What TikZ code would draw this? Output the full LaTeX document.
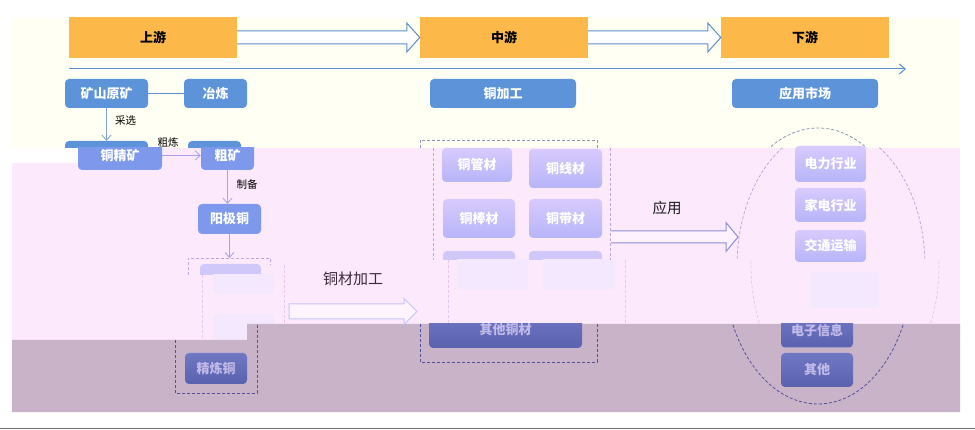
\documentclass[tikz,border=0pt]{standalone}
\usepackage{fontspec}
\setmainfont{Noto Sans CJK SC}
\usetikzlibrary{arrows.meta,calc}
\definecolor{cream}{HTML}{FFFFF3}
\definecolor{pinkbg}{HTML}{FCEAFC}
\definecolor{mauvebg}{HTML}{C9B3C8}
\definecolor{orng}{HTML}{FDB84A}
\definecolor{bluebox}{HTML}{5C93D9}
\definecolor{blueline}{HTML}{5B8FCF}
\definecolor{peri}{HTML}{7E99EC}
\definecolor{lavtop}{HTML}{D8CAFD}
\definecolor{lavbot}{HTML}{B6B5F9}
\definecolor{lavmid}{HTML}{D0C8F8}
\definecolor{indtop}{HTML}{7078C4}
\definecolor{indbot}{HTML}{5A62B0}
\definecolor{indtext}{HTML}{C2BAE8}
\definecolor{faint}{HTML}{F3E8FD}
\definecolor{arrp}{HTML}{A6A2E6}
\definecolor{arrcb}{HTML}{7FA0D8}
\definecolor{dashcr}{HTML}{8A94B4}
\definecolor{dashpk}{HTML}{BBA8D8}
\definecolor{dashgh}{HTML}{E6C6EC}
\definecolor{dashmv}{HTML}{52529C}
\definecolor{yyarr}{HTML}{8E8CDC}
\definecolor{tcarr}{HTML}{C4C4F8}
\definecolor{graybar}{HTML}{707070}
\tikzset{
  base/.style={rounded corners=4pt, inner sep=0pt, font=\bfseries\fontsize{13}{13}\selectfont},
  stage/.style={fill=orng, font=\bfseries\fontsize{13}{13}\selectfont, text=black, inner sep=0pt, minimum width=168pt, minimum height=41pt},
  bluebx/.style={base, fill=bluebox, text=white, minimum height=29pt},
  peribx/.style={base, fill=peri, text=white},
  lavbx/.style={base, top color=lavtop, bottom color=lavbot, text=white},
  indbx/.style={base, top color=indtop, bottom color=indbot, text=indtext},
  ghostfill/.style={rounded corners=4pt, fill=faint},
  lbl/.style={font=\fontsize{10.5}{10.5}\selectfont, text=black, inner sep=0pt},
  arrc/.style={draw=#1, line width=0.8pt, -{Straight Barb[length=5pt,width=9pt]}},
  dsh/.style={draw=#1, dash pattern=on 3pt off 2pt, line width=0.8pt},
}
\begin{document}
\begin{tikzpicture}[x=1pt,y=-1pt]
\useasboundingbox (0,0) rectangle (975,430);
% backgrounds
\fill[white] (0,0) rectangle (975,430);
\fill[cream] (12,18) rectangle (960,148);
\fill[pinkbg] (12,163) -- (78,163) -- (78,148) -- (960,148) -- (960,340) -- (12,340) -- cycle;
% ghost band elements
\begin{scope}
  \clip (0,0) rectangle (975,275);
  \fill[lavmid, rounded corners=4pt] (200,264) rectangle (261,294);
\end{scope}
\begin{scope}
  \clip (0,275) rectangle (975,430);
  \fill[ghostfill] (213,264) rectangle (274,294);
\end{scope}
\fill[ghostfill] (213,314) rectangle (274,346);
\begin{scope}
  \clip (0,0) rectangle (975,260);
  \fill[lavmid, rounded corners=4pt] (443,251) rectangle (515,290);
  \fill[lavmid, rounded corners=4pt] (529,251) rectangle (602,290);
\end{scope}
\begin{scope}
  \clip (0,260) rectangle (975,430);
  \fill[ghostfill] (457,251) rectangle (528,290);
  \fill[ghostfill] (543,251) rectangle (615,290);
\end{scope}
\fill[ghostfill] (810,272) rectangle (879,308);
% mauve band
\fill[mauvebg] (12,340) -- (247,340) -- (247,324) -- (960,324) -- (960,412) -- (12,412) -- cycle;
\draw[graybar, line width=1.5pt] (0,428.5) -- (975,428.5);

% stage nodes
\node[stage] (sy) at (153,37.5) {上游};
\node[stage] (zy) at (504,37.5) {中游};
\node[stage] (xy) at (805,37.5) {下游};
% block arrows between stages
\filldraw[draw=blueline, fill=white, line width=1pt]
  ($(sy.east)+(0,-6.5)$) -- ($(zy.west)+(-13,-6.5)$) -- ($(zy.west)+(-13,-14.5)$) -- (zy.west)
  -- ($(zy.west)+(-13,14.5)$) -- ($(zy.west)+(-13,6.5)$) -- ($(sy.east)+(0,6.5)$);
\filldraw[draw=blueline, fill=white, line width=1pt]
  ($(zy.east)+(0,-6.5)$) -- ($(xy.west)+(-13,-6.5)$) -- ($(xy.west)+(-13,-14.5)$) -- (xy.west)
  -- ($(xy.west)+(-13,14.5)$) -- ($(xy.west)+(-13,6.5)$) -- ($(zy.east)+(0,6.5)$);
% long timeline
\coordinate (tlA) at (69,69);
\coordinate (tlB) at (906,69);
\draw[blueline, line width=1pt, -{Straight Barb[length=6pt,width=10pt]}] (tlA) -- (tlB);

% row 2
\node[bluebx, minimum width=83pt] (kys) at (106.5,93.5) {矿山原矿};
\node[bluebx, minimum width=63pt] (yl) at (215.5,93.5) {冶炼};
\node[bluebx, minimum width=146pt] (tjg) at (503,93.5) {铜加工};
\node[bluebx, minimum width=146pt] (yysc) at (805,93.5) {应用市场};
\draw[blueline, line width=0.9pt] (kys.east) -- (yl.west);

% slivers at original place
\begin{scope}
  \clip (0,0) rectangle (975,148);
  \fill[bluebox, rounded corners=4pt] (65,141) rectangle (148,170);
  \fill[bluebox, rounded corners=4pt] (188,141) rectangle (241,170);
\end{scope}
\begin{scope}
  \clip (0,148) rectangle (975,430);
  \node[peribx, minimum width=84pt, minimum height=29pt] (tjk) at (120,155.5) {铜精矿};
  \node[peribx, minimum width=53pt, minimum height=29pt] (ck) at (227.5,155.5) {粗矿};
\end{scope}
\node[peribx, minimum width=63pt, minimum height=30pt] (yjt) at (229.5,219) {阳极铜};

% middle frame boxes
\node[lavbx, minimum width=70pt, minimum height=34pt] (tgc) at (477,165) {铜管材};
\node[lavbx, minimum width=73pt, minimum height=39pt] (txc) at (565.5,168.5) {铜线材};
\node[lavbx, minimum width=72pt, minimum height=39pt] (tbc) at (479,218.5) {铜棒材};
\node[lavbx, minimum width=73pt, minimum height=39pt] (tdc) at (565.5,218.5) {铜带材};
% right boxes
\node[lavbx, minimum width=71pt, minimum height=36pt] (dl) at (830.5,164) {电力行业};
\node[lavbx, minimum width=71pt, minimum height=34pt] (jd) at (830.5,205) {家电行业};
\node[lavbx, minimum width=71pt, minimum height=32pt] (jt) at (830.5,246) {交通运输};

% mauve band boxes
\node[indbx, minimum width=62pt, minimum height=31pt] (jlt) at (216,368.5) {精炼铜};
\begin{scope}
  \clip (247,324) rectangle (960,412);
  \node[indbx, minimum width=153pt, minimum height=36pt] (qtc) at (505.5,330) {其他铜材};
  \node[indbx, minimum width=72pt, minimum height=33pt] (dzxx) at (817,331) {电子信息};
\end{scope}
\node[indbx, minimum width=72pt, minimum height=34pt] (qt) at (817,370) {其他};

% connectors
\draw[arrc=arrcb] (kys.south) -- (kys.south |- tjk.north);
\draw[arrc=arrp] (tjk.east) -- (ck.west);
\draw[arrc=arrp] (ck.south) -- (ck.south |- yjt.north);
\coordinate (lftop) at (229.5,258);
\draw[arrc=arrp] (yjt.south) -- (lftop);

% labels
\node[lbl] (lcx) at (125.5,120.5) {采选};
\node[lbl] (lcl) at (168,143) {粗炼};
\node[lbl] (lzb) at (247,184) {制备};
\node[font=\fontsize{14.5}{14.5}\selectfont, text=black!90, inner sep=0pt] (lyy) at (667,208) {应用};
\node[font=\fontsize{15}{15}\selectfont, text={rgb,255:red,60;green,42;blue,60}, inner sep=0pt] (ltc) at (353,279) {铜材加工};

% block arrow 应用
\coordinate (yyA) at (611,237);
\coordinate (yyB) at (738,237);
\filldraw[draw=yyarr, fill=pinkbg!60!white, line width=1pt]
  ($(yyA)+(0,-6)$) -- ($(yyB)+(-12,-6)$) -- ($(yyB)+(-12,-14.5)$) -- (yyB)
  -- ($(yyB)+(-12,14.5)$) -- ($(yyB)+(-12,6)$) -- ($(yyA)+(0,6)$);
% block arrow 铜材加工
\coordinate (tcA) at (289,311.5);
\coordinate (tcB) at (417,311.5);
\filldraw[draw=tcarr, fill=pinkbg!50!white, line width=1pt]
  ($(tcA)+(0,-7.5)$) -- ($(tcB)+(-13,-7.5)$) -- ($(tcB)+(-13,-13)$) -- (tcB)
  -- ($(tcB)+(-13,13)$) -- ($(tcB)+(-13,7.5)$) -- ($(tcA)+(0,7.5)$) -- cycle;

% left dashed frame (pieces)
\draw[dsh=dashpk] (188,275) -- (188,258) -- (270,258) -- (270,265);
\draw[dsh=dashgh] (202,275) -- (202,340);
\draw[dsh=dashgh] (284,265) -- (284,324);
\draw[dsh=dashmv] (175,340) -- (175,393) -- (257,393) -- (257,324);
% middle dashed frame (pieces)
\draw[dsh=dashcr] (420,148) -- (420,140) -- (597,140) -- (597,148);
\draw[dsh=dashpk] (433,148) -- (433,260);
\draw[dsh=dashpk] (610,148) -- (610,260);
\draw[dsh=dashgh] (448,260) -- (448,324);
\draw[dsh=dashgh] (625,260) -- (625,324);
\draw[dsh=dashmv] (420,324) -- (420,362) -- (597,362) -- (597,324);
% ellipse (pieces)
\begin{scope}
  \clip (600,100) rectangle (975,148);
  \draw[dsh=dashcr] (818,266) ellipse [x radius=94, y radius=138];
\end{scope}
\begin{scope}
  \clip (600,148) rectangle (975,260);
  \draw[dsh=dashpk, xshift=13pt] (818,266) ellipse [x radius=94, y radius=138];
\end{scope}
\begin{scope}
  \clip (600,260) rectangle (975,324);
  \draw[dsh=dashgh, xshift=27pt] (818,266) ellipse [x radius=94, y radius=138];
\end{scope}
\begin{scope}
  \clip (600,324) rectangle (975,412);
  \draw[dsh=dashmv] (818,266) ellipse [x radius=94, y radius=138];
\end{scope}
\end{tikzpicture}
\end{document}
